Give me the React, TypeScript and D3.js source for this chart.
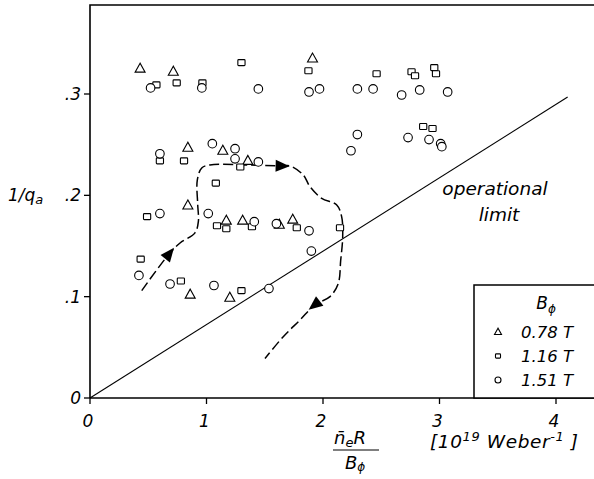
import * as d3 from "d3";

// axis ticks
const xTicks = [0, 1, 2, 3, 4];
const xTickLabels = ["0", "1", "2", "3", "4"];
const yTicks = [0, 0.1, 0.2, 0.3];
const yTickLabels = ["0", ".1", ".2", ".3"];

// B = 0.78 T (triangles)
const triX = [0.43, 0.715, 1.91, 0.84, 1.14, 1.355, 0.84, 1.17, 1.31, 1.625, 1.74, 0.86, 1.2];
const triY = [0.325, 0.322, 0.335, 0.247, 0.244, 0.234, 0.19, 0.175, 0.175, 0.171, 0.176, 0.102, 0.099];

// B = 1.16 T (squares)
const sqX = [0.57, 0.744, 0.965, 1.3, 1.875, 2.46, 2.76, 2.79, 2.955, 2.97, 0.6, 0.807, 1.29, 1.08, 2.86, 2.94,
  0.49, 1.09, 1.17, 1.39, 1.775, 2.146, 0.435, 0.78, 1.3];
const sqY = [0.309, 0.311, 0.311, 0.331, 0.323, 0.32, 0.322, 0.318, 0.326, 0.32, 0.234, 0.234, 0.228, 0.212, 0.268, 0.266,
  0.179, 0.17, 0.167, 0.169, 0.168, 0.168, 0.137, 0.1155, 0.106];

// B = 1.51 T (circles)
const circX = [0.52, 0.96, 1.445, 1.88, 1.97, 2.295, 2.43, 2.675, 2.83, 3.07, 2.295, 2.24, 2.73, 2.91, 3.01, 3.02,
  0.6, 1.05, 1.245, 1.245, 1.445, 0.6, 1.015, 1.41, 1.6, 1.88, 1.9, 0.42, 0.687, 1.064, 1.536];
const circY = [0.306, 0.306, 0.305, 0.302, 0.305, 0.305, 0.305, 0.299, 0.304, 0.302, 0.26, 0.244, 0.257, 0.255, 0.251, 0.248,
  0.241, 0.251, 0.246, 0.236, 0.233, 0.182, 0.182, 0.174, 0.172, 0.165, 0.145, 0.121, 0.1125, 0.111, 0.108];

// operational limit
const limitX = [0, 4.1];
const limitY = [0, 0.297];

// dashed trajectory
const pathX = [0.444, 0.678, 0.773, 0.901, 0.93, 0.924, 0.921, 0.959, 1.03, 1.345, 1.645, 1.717, 1.831, 1.888, 1.989,
  2.118, 2.16, 2.169, 2.152, 2.131, 2.06, 1.931, 1.803, 1.659, 1.502];
const pathY = [0.106, 0.142, 0.153, 0.163, 0.174, 0.192, 0.215, 0.227, 0.23, 0.23, 0.229, 0.229, 0.22, 0.2086, 0.197,
  0.1905, 0.179, 0.159, 0.136, 0.113, 0.1, 0.092, 0.077, 0.0605, 0.039];
const arrowIdx = [1, 10, 21];

const legendLabels = ["0.78 T", "1.16 T", "1.51 T"];
const legendKinds = ["tri", "sq", "circ"];

const width = 594, height = 479;
const FONT = "DejaVu Sans";

const Marker = ({ kind, cx, cy, s }: { kind: string; cx: number; cy: number; s: number }) => {
  if (kind === "tri") {
    const w = 5 * s;
    return (
      <path
        d={`M${cx},${cy - 5.5 * s}L${cx - w},${cy + 3.5 * s}L${cx + w},${cy + 3.5 * s}Z`}
        fill="white" stroke="black" strokeWidth={1.1}
      />
    );
  }
  if (kind === "sq") {
    return (
      <rect x={cx - 3.6 * s} y={cy - 3 * s} width={7.2 * s} height={6 * s} rx={0.8}
        fill="white" stroke="black" strokeWidth={1.1} />
    );
  }
  return <circle cx={cx} cy={cy} r={4.3 * s} fill="white" stroke="black" strokeWidth={1.1} />;
};

const App = () => {
  const xScale = d3.scaleLinear().domain([0, 4]).range([90, 556]);
  const yScale = d3.scaleLinear().domain([0, 0.3]).range([398, 94]);

  const traj = pathX.map((x, i) => [xScale(x), yScale(pathY[i])] as [number, number]);
  const line = d3.line().curve(d3.curveCatmullRom.alpha(0.5));

  const arrows = arrowIdx.map((i) => {
    const [x, y] = traj[i];
    const a = traj[i - 1], b = traj[i + 1];
    const ang = (Math.atan2(b[1] - a[1], b[0] - a[0]) * 180) / Math.PI;
    return (
      <path key={i} d="M8,0L-6,-6L-6,6Z" fill="black"
        transform={`translate(${x},${y}) rotate(${ang})`} />
    );
  });

  const series = [
    { kind: "tri", xs: triX, ys: triY },
    { kind: "sq", xs: sqX, ys: sqY },
    { kind: "circ", xs: circX, ys: circY },
  ];

  const txt = { fontFamily: FONT, fontStyle: "oblique" as const, fill: "black" };

  return (
    <div style={{ position: "fixed", left: 0, top: 0 }}>
      <svg width={width} height={height} style={{ display: "block", background: "white" }}>
        {/* frame */}
        <path d={`M${xScale(0)},398V5H${width + 5}`} fill="none" stroke="black" strokeWidth={1.6} />
        <line x1={xScale(0)} x2={width + 5} y1={yScale(0)} y2={yScale(0)} stroke="black" strokeWidth={1.6} />

        {/* ticks */}
        {yTicks.map((t, i) => (
          <g key={"y" + i}>
            <line x1={84} x2={90} y1={yScale(t)} y2={yScale(t)} stroke="black" strokeWidth={1.3} />
            <text x={81} y={yScale(t)} textAnchor="end" dominantBaseline="central" fontSize={17} {...txt}>
              {yTickLabels[i]}
            </text>
          </g>
        ))}
        {xTicks.map((t, i) => (
          <g key={"x" + i}>
            <line x1={xScale(t)} x2={xScale(t)} y1={398} y2={404} stroke="black" strokeWidth={1.3} />
            <text x={xScale(t) - 2} y={421} textAnchor="middle" dominantBaseline="central" fontSize={17} {...txt}>
              {xTickLabels[i]}
            </text>
          </g>
        ))}

        {/* axis labels */}
        <text x={8} y={195} dominantBaseline="central" fontSize={17} {...txt}>
          1/q<tspan fontSize={13} dy={4}>a</tspan>
        </text>
        <text x={334} y={444} fontSize={18} {...txt}>
          n&#772;<tspan fontSize={13} dy={3}>e</tspan><tspan dy={-3}>R</tspan>
        </text>
        <line x1={333} x2={379} y1={450} y2={450} stroke="black" strokeWidth={1.2} />
        <text x={345} y={469} fontSize={18} {...txt}>
          B<tspan fontSize={12} dy={2}>&#981;</tspan>
        </text>
        <text x={430} y={448} fontSize={18.5} letterSpacing={0.6} {...txt}>
          [10<tspan fontSize={13} dy={-7}>19</tspan><tspan dy={7}> Weber</tspan>
          <tspan fontSize={13} dy={-7}>-1</tspan><tspan dy={7}> ]</tspan>
        </text>

        {/* operational limit */}
        <line x1={xScale(limitX[0])} y1={yScale(limitY[0])} x2={xScale(limitX[1])} y2={yScale(limitY[1])}
          stroke="black" strokeWidth={1.1} />
        <text x={495} y={195} textAnchor="middle" fontSize={18.5} {...txt}>operational</text>
        <text x={499} y={221} textAnchor="middle" fontSize={18.5} {...txt}>limit</text>

        {/* trajectory */}
        <path d={line(traj) || ""} fill="none" stroke="black" strokeWidth={1.5} strokeDasharray="10,4" />
        {arrows}

        {/* data */}
        {series.map((s) =>
          s.xs.map((x, i) => (
            <Marker key={s.kind + i} kind={s.kind} cx={xScale(x)} cy={yScale(s.ys[i])} s={1} />
          ))
        )}

        {/* legend */}
        <rect x={474} y={285} width={130} height={113} fill="white" stroke="black" strokeWidth={1.5} />
        <text x={546} y={309} textAnchor="middle" fontSize={17} {...txt}>
          B<tspan fontSize={12} dy={4}>&#981;</tspan>
        </text>
        {legendLabels.map((l, i) => (
          <g key={l}>
            <Marker kind={legendKinds[i]} cx={498} cy={332 + i * 24} s={0.7} />
            <text x={521} y={332 + i * 24} dominantBaseline="central" fontSize={16.5} {...txt}>{l}</text>
          </g>
        ))}
      </svg>
    </div>
  );
};

export default App;
